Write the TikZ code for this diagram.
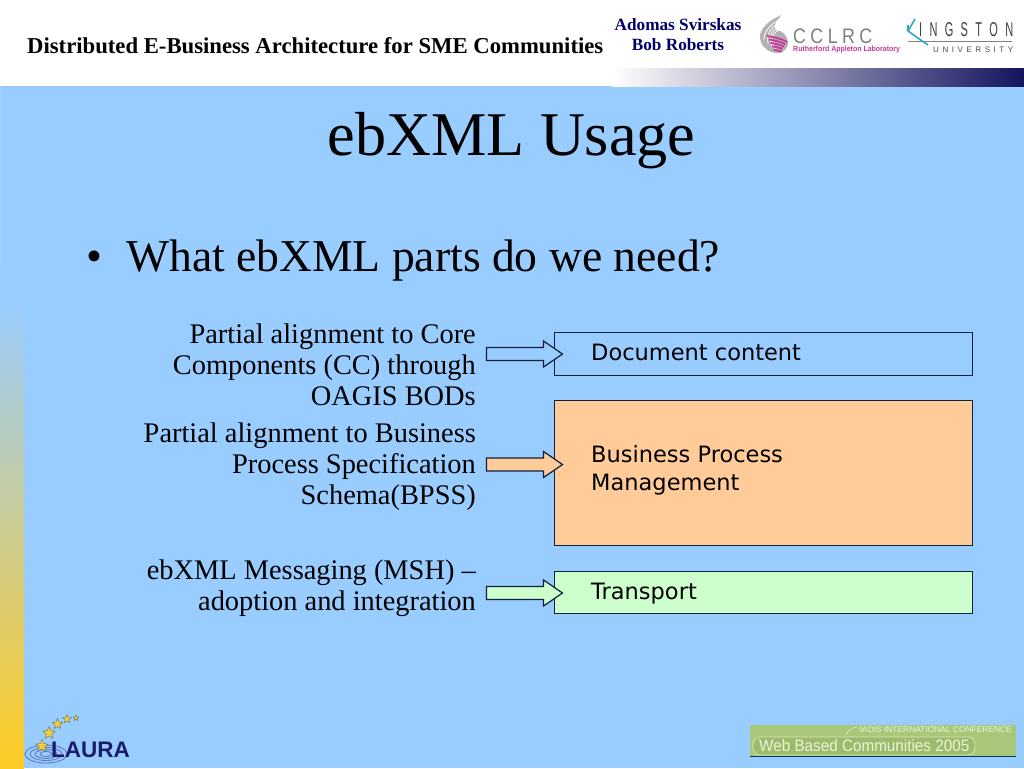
\documentclass[tikz,border=0pt]{standalone}
\usepackage{fontspec}
\usepackage{graphicx}
\setmainfont{Liberation Serif}
\newfontfamily\boxfont{DejaVu Sans}
\newfontfamily\logofont{Liberation Sans}
\usetikzlibrary{shapes.geometric,shapes.arrows}
\definecolor{slidebg}{HTML}{99CCFF}
\definecolor{slidelight}{HTML}{A3D1FF}
\definecolor{navy}{HTML}{000066}
\definecolor{orangefill}{HTML}{FFCC99}
\definecolor{greenfill}{HTML}{CCFFCC}
\definecolor{boxline}{HTML}{0F1F3F}
\definecolor{stripy}{HTML}{FFCC22}
\definecolor{stripm}{HTML}{D2C8B0}
\definecolor{headnavy}{HTML}{14145F}
\definecolor{magen}{HTML}{C8389A}
\definecolor{wbc}{HTML}{A9C77A}
\definecolor{wbcpill}{HTML}{9DBB6C}
\definecolor{wbct}{HTML}{E9F5D6}
\definecolor{lstar}{HTML}{F7CF30}
\definecolor{lnavy}{HTML}{1B1B6B}
\definecolor{kcyan}{HTML}{2FA7C4}
\tikzset{
 labeltext/.style={font=\fontsize{28.4}{31}\selectfont,align=right,anchor=east,text=black,inner sep=0pt},
 contentbox/.style={draw=boxline,line width=1pt},
 boxtext/.style={font=\boxfont\fontsize{22.5}{27.5}\selectfont,align=left,anchor=north west,inner sep=0pt,text=black},
 flow/.style={draw=boxline,line width=1.2pt},
 lstarstyle/.style={star,star points=5,star point ratio=2.3,fill=lstar,draw=gray!70!black,line width=.3pt,inner sep=0pt},
}
\newcommand{\flowarrow}[2]{%
  \draw[flow,fill=#2] (486.5,#1-6.5) -- (543.5,#1-6.5) -- (543.5,#1-13) -- (562.5,#1) -- (543.5,#1+13) -- (543.5,#1+6.5) -- (486.5,#1+6.5) -- cycle;
}
\begin{document}
\begin{tikzpicture}[x=1pt,y=-1pt]
\useasboundingbox (0,0) rectangle (1024,768);
\fill[white] (0,0) rectangle (1024,768);
\fill[slidebg] (0,86) rectangle (1024,768);
\fill[slidelight] (0,86) rectangle (1.5,265);
% header band
\shade[left color=white,right color=headnavy] (612,68) rectangle (1024,86);
% left strip
\shade[top color=slidebg,middle color=stripm,bottom color=stripy] (0,300) rectangle (24,768);
% header text
\node[font=\bfseries\fontsize{22.7}{26}\selectfont,anchor=west,inner sep=0pt] (headt) at (27,46) {Distributed E-Business Architecture for SME Communities};
\node[font=\bfseries\fontsize{17.2}{20}\selectfont,align=center,text=navy,inner sep=0pt] (authors) at (678,35) {Adomas Svirskas\\Bob Roberts};
% CCLRC logo
\fill[gray!60] (782,15) .. controls (768,20) and (759,30) .. (760,38) .. controls (761,47) and (769,53) .. (777,53) .. controls (784,53) and (788,48) .. (788,43) .. controls (788,36) and (782,30) .. (776,30) .. controls (773,27) and (776,20) .. (782,15) -- cycle;
\foreach \s in {0,3.4,6.8,10.2}{
  \draw[white,line width=.8pt] (786,{17+\s}) .. controls ({772-\s*0.3},{22+\s}) and ({764+\s*0.6},{30+\s}) .. ({764+\s*1.2},{40+\s});
}
\foreach \s in {0,3.4,6.8,10.2,13.6}{
  \draw[magen,line width=1.8pt] ({767+\s*0.5},{36+\s}) .. controls ({773+\s*0.3},{37+\s}) and (783,{39+\s*0.9}) .. ({787-\s*0.5},{42+\s*0.75});
}
\node[font=\logofont\fontsize{21}{21}\selectfont,text=gray,anchor=west,inner sep=0pt] (cclrc) at (793,36) {\scalebox{.85}[1]{\makebox[93pt][s]{C\hfill C\hfill L\hfill R\hfill C}}};
\node[font=\logofont\bfseries\fontsize{7.6}{8}\selectfont,text=magen,anchor=west,inner sep=0pt] (ral) at (793,49.5) {\scalebox{.92}[1]{Rutherford Appleton Laboratory}};
% Kingston logo
\draw[gray,line width=.7pt] (908,41) -- (1012,41);
\draw[kcyan,line width=1.6pt] (915,19) -- (908,31) -- (928,45);
\draw[kcyan,line width=1.4pt] (908,31) -- (908,25);
\node[font=\logofont\fontsize{20}{20}\selectfont,text=black!75,anchor=west,inner sep=0pt] (king) at (919,30) {\scalebox{.55}[1]{\makebox[171pt][s]{I\hfill N\hfill G\hfill S\hfill T\hfill O\hfill N}}};
\node[font=\logofont\fontsize{8}{8}\selectfont,text=black!70,anchor=west,inner sep=0pt] (univ) at (933,49.5) {\makebox[80pt][s]{U\hfill N\hfill I\hfill V\hfill E\hfill R\hfill S\hfill I\hfill T\hfill Y}};
% title
\node[font=\fontsize{62.2}{62}\selectfont,inner sep=0pt] (title) at (511.5,141) {ebXML Usage};
\node[font=\fontsize{45.6}{45}\selectfont,anchor=west,inner sep=0pt] (bullet) at (86,261) {•};
\node[font=\fontsize{45.6}{45}\selectfont,anchor=west,inner sep=0pt] (q) at (126,261) {What ebXML parts do we need?};
% labels
\node[labeltext] (l1) at (476,365) {Partial alignment to Core\\Components (CC) through\\OAGIS BODs};
\node[labeltext] (l2) at (476,467) {Partial alignment to Business\\Process Specification\\Schema(BPSS)};
\node[labeltext] (l3) at (476,588) {ebXML Messaging (MSH) –\\adoption and integration};
% boxes
\draw[contentbox,fill=slidebg] (554.5,332) rectangle (972.5,375);
\draw[contentbox,fill=orangefill] (554.5,400.5) rectangle (972.5,545.5);
\draw[contentbox,fill=greenfill] (554.5,571.5) rectangle (972.5,613.5);
\node[boxtext] (b1) at (591,344) {Document content};
\node[boxtext] (b2) at (591,445.5) {Business Process\\Management};
\node[boxtext] (b3) at (591,583) {Transport};
% arrows
\flowarrow{354}{slidebg}
\flowarrow{464.5}{orangefill}
\flowarrow{593}{greenfill}
% LAURA logo
\foreach \rx/\ry in {6/2.5,11/4.5,16/6.5,21/9}{\draw[lnavy!45!slidebg,line width=.9pt] (46,754) ellipse[x radius=\rx,y radius=\ry];}
\foreach \x/\y/\r in {42/746/6.5,49/733/6.5,57.5/724/5.5,67/719/4.5,76/718/3}{
 \node[lstarstyle,minimum size=2*\r pt] at (\x,\y) {};
}
\node[font=\logofont\bfseries\fontsize{22.5}{22}\selectfont,text=lnavy,anchor=west,inner sep=0pt] (laura) at (51,749.5) {LAURA};
% WBC banner
\fill[wbc] (750,725) rectangle (1016,757);
\draw[black!60!green!60!blue,line width=.8pt] (750,756.5) -- (1016,756.5);
\filldraw[fill=wbcpill,draw=wbct!70!wbc,line width=.8pt,rounded corners=7pt] (753,737) rectangle (975,755);
\draw[wbct!70!wbc,line width=.8pt] (846,735) .. controls (848,730) and (852,728) .. (857,727);
\node[font=\logofont\fontsize{16.5}{16.5}\selectfont,text=wbct,anchor=west,inner sep=0pt] (wbctxt) at (759,746) {\scalebox{.925}[1]{Web Based Communities 2005}};
\node[font=\logofont\fontsize{8.4}{8.4}\selectfont,text=wbct,anchor=east,inner sep=0pt] (iadis) at (1012,730) {IADIS INTERNATIONAL CONFERENCE};
\end{tikzpicture}
\end{document}
